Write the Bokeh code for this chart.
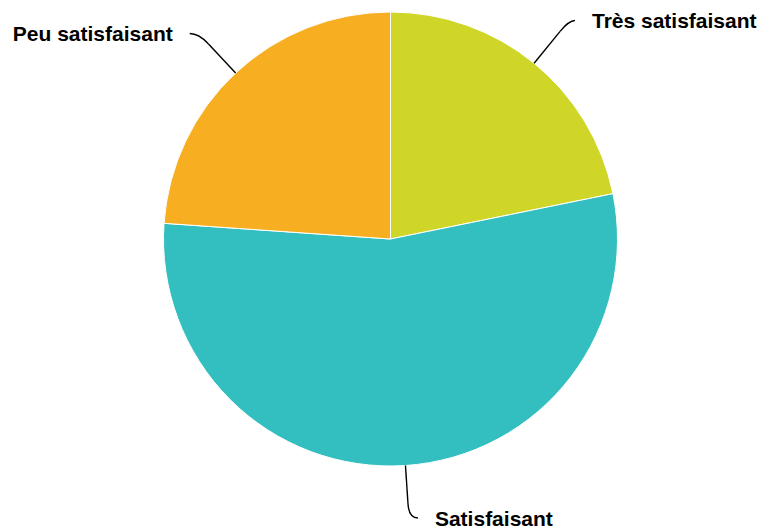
import math
from bokeh.plotting import figure
from bokeh.models import Range1d, ColumnDataSource
from bokeh.core.properties import value
from bokeh.embed import file_html
from bokeh.resources import INLINE

# ---- data ----
categories = ["Très satisfaisant", "Satisfaisant", "Peu satisfaisant"]
shares = [21.8, 54.3, 23.9]
colors = ["#CFD628", "#33BEBF", "#F7AE21"]

# ---- layout (page pixel space, y measured downward then flipped) ----
PAGE_W, PAGE_H = 768, 529
CX, CY_PX, R = 390, 238.5, 227
label_y_px = [20, 517.5, 33]        # vertical position of each label line
label_side = [1, 1, -1]             # 1 = label on right of connector, -1 = left
label_hook = [6, 9, 9]              # horizontal end of each connector

def fy(y_px):
    return PAGE_H - y_px

CY = fy(CY_PX)

p = figure(width=PAGE_W, height=PAGE_H, output_backend="svg", toolbar_location=None,
           x_range=Range1d(0, PAGE_W), y_range=Range1d(0, PAGE_H),
           x_axis_location=None, y_axis_location=None, min_border=0)
p.outline_line_color = None
p.grid.visible = False

total = sum(shares)
starts, ends, mids = [], [], []
cum = 0.0
for s in shares:
    a0 = cum / total * 360.0
    cum += s
    a1 = cum / total * 360.0
    # clockwise from 12 o'clock -> bokeh anticlockwise from +x
    starts.append(90 - a1)
    ends.append(90 - a0)
    mids.append((a0 + a1) / 2)

src = ColumnDataSource(dict(start=starts, end=ends, color=colors, cat=categories))
p.wedge(x=CX, y=CY, radius=R, start_angle="start", end_angle="end",
        start_angle_units="deg", end_angle_units="deg", direction="anticlock",
        fill_color="color", line_color="white", line_width=1, source=src)

# connectors + labels
for cat, mid, ly_px, side, hook in zip(categories, mids, label_y_px, label_side, label_hook):
    th = math.radians(mid)
    dx, dy = math.sin(th), math.cos(th)          # dy positive = upward
    ex, ey = CX + R * dx, CY + R * dy             # edge point
    ly = fy(ly_px)
    # corner where radial line meets label line
    t = (ly - ey) / dy
    cx_, cy_ = ex + dx * t, ly
    back = 14
    bx, by = cx_ - dx * back, cy_ - dy * back
    endx = cx_ + side * hook
    p.line([ex, bx], [ey, by], line_color="black", line_width=1.4)
    p.quadratic(x0=bx, y0=by, x1=endx, y1=ly, cx=cx_, cy=cy_,
                line_color="black", line_width=1.4)
    tx = endx + side * 17
    p.text(x=[tx], y=[ly], text=[cat], text_font=value("Liberation Sans"),
           text_font_style="bold", text_font_size="21px", text_color="black",
           text_align="left" if side > 0 else "right", text_baseline="middle")

open("out.html", "w").write(file_html(p, INLINE))
